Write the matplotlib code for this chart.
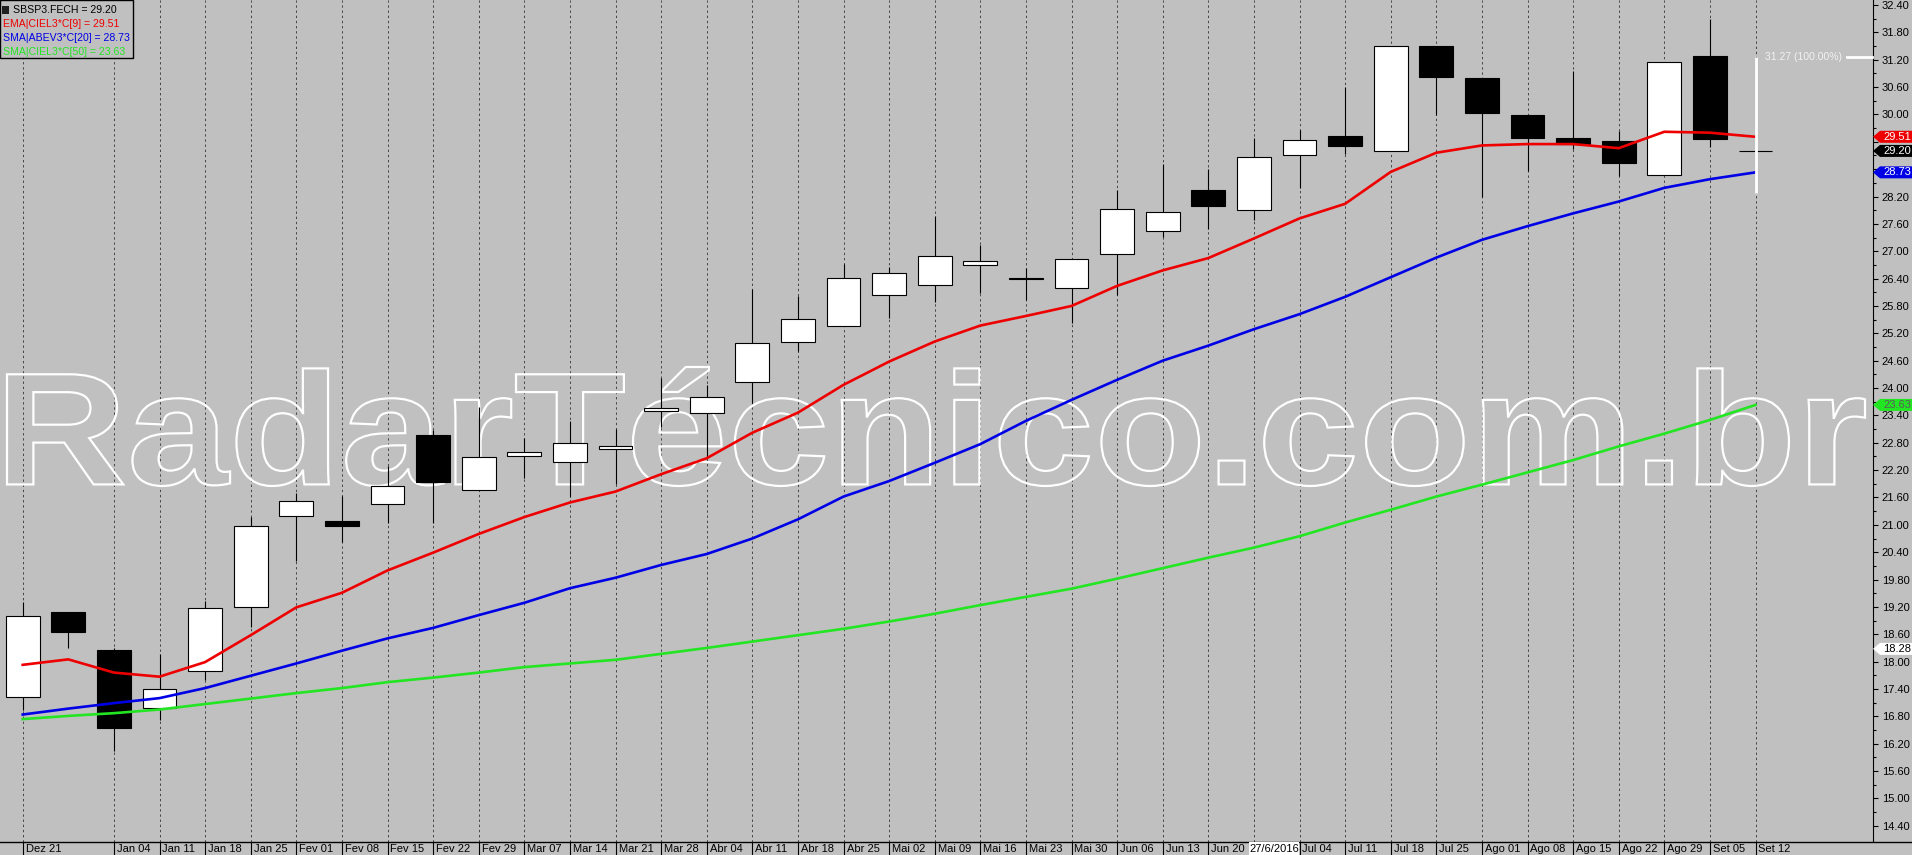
import numpy as np
import matplotlib
matplotlib.use('Agg')
import matplotlib.pyplot as plt
import matplotlib.patches as mpatches
import matplotlib.transforms as mtrans
from matplotlib.textpath import TextPath
from matplotlib.font_manager import FontProperties

plt.rcParams['font.family'] = ['Liberation Sans', 'DejaVu Sans']

# semanas (candle semanal SBSP3)
semanas = ['Dez 21', '', 'Jan 04', 'Jan 11', 'Jan 18', 'Jan 25', 'Fev 01', 'Fev 08',
           'Fev 15', 'Fev 22', 'Fev 29', 'Mar 07', 'Mar 14', 'Mar 21', 'Mar 28',
           'Abr 04', 'Abr 11', 'Abr 18', 'Abr 25', 'Mai 02', 'Mai 09', 'Mai 16',
           'Mai 23', 'Mai 30', 'Jun 06', 'Jun 13', 'Jun 20', 'Jun 27', 'Jul 04',
           'Jul 11', 'Jul 18', 'Jul 25', 'Ago 01', 'Ago 08', 'Ago 15', 'Ago 22',
           'Ago 29', 'Set 05', 'Set 12']

abertura = [17.22, 19.08, 18.25, 16.98, 17.79, 19.19, 21.19, 21.08, 21.45, 22.97,
            21.76, 22.52, 22.37, 22.67, 23.49, 23.45, 24.13, 25.00, 25.36, 26.03,
            26.27, 26.69, 26.42, 26.19, 26.93, 27.44, 28.34, 27.90, 29.10, 29.52,
            29.19, 31.50, 30.81, 29.99, 29.48, 29.42, 28.67, 31.28, 29.20]
maxima = [19.31, 19.08, 18.30, 18.17, 19.34, 21.17, 21.69, 21.63, 22.29, 23.08,
          23.58, 22.90, 23.28, 23.10, 24.21, 24.07, 26.17, 26.02, 26.71, 26.65,
          27.77, 27.13, 26.63, 26.82, 28.34, 28.91, 28.80, 29.48, 29.66, 30.61,
          31.49, 31.50, 30.81, 29.99, 30.95, 29.64, 31.14, 32.09, 29.20]
minima = [16.94, 18.29, 16.03, 16.71, 17.60, 18.75, 20.21, 20.63, 21.05, 21.03,
          21.76, 22.03, 21.62, 21.90, 23.15, 22.46, 23.67, 24.82, 25.36, 25.53,
          25.89, 26.09, 25.92, 25.43, 26.04, 27.31, 27.48, 27.69, 28.38, 29.13,
          29.19, 29.99, 28.20, 28.77, 29.25, 28.64, 28.67, 29.29, 29.20]
fechamento = [18.99, 18.64, 16.55, 17.41, 19.17, 20.97, 21.52, 20.98, 21.86, 21.93,
              22.48, 22.59, 22.79, 22.72, 23.57, 23.80, 24.98, 25.51, 26.41, 26.52,
              26.89, 26.78, 26.39, 26.82, 27.92, 27.85, 28.00, 29.06, 29.43, 29.31,
              31.49, 30.83, 30.04, 29.49, 29.35, 28.94, 31.14, 29.47, 29.20]

ema9_ciel3 = [17.93, 18.05, 17.76, 17.67, 17.99, 18.58, 19.19, 19.51, 20.00, 20.39,
              20.80, 21.17, 21.49, 21.73, 22.11, 22.46, 23.02, 23.46, 24.07, 24.58,
              25.02, 25.37, 25.58, 25.80, 26.24, 26.58, 26.85, 27.28, 27.72, 28.04,
              28.74, 29.16, 29.32, 29.35, 29.35, 29.26, 29.62, 29.60, 29.51]
sma20_abev3 = [16.84, 16.97, 17.09, 17.20, 17.42, 17.69, 17.96, 18.24, 18.51, 18.74,
               19.02, 19.29, 19.61, 19.84, 20.12, 20.36, 20.70, 21.12, 21.62, 21.96,
               22.36, 22.77, 23.28, 23.74, 24.18, 24.60, 24.93, 25.29, 25.62, 26.00,
               26.43, 26.86, 27.25, 27.55, 27.83, 28.09, 28.39, 28.58, 28.73]
sma50_ciel3 = [16.74, 16.81, 16.87, 16.95, 17.07, 17.19, 17.31, 17.42, 17.55, 17.65,
               17.76, 17.88, 17.96, 18.04, 18.17, 18.30, 18.44, 18.58, 18.72, 18.88,
               19.05, 19.24, 19.42, 19.60, 19.82, 20.05, 20.28, 20.50, 20.75, 21.05,
               21.33, 21.62, 21.88, 22.15, 22.42, 22.72, 23.00, 23.30, 23.63]

medida_min, medida_max = 28.28, 31.27
cursor_preco = 18.28
cursor_data = '27/6/2016'
cursor_semana = 27

BG = '#c0c0c0'
W, H = 1912, 855
AXW, AXH = 1873, 842
PX = 45.6      # pixels por candle
PY = 45.6      # pixels por real

fig = plt.figure(figsize=(W / 100, H / 100), dpi=100)
fig.patch.set_facecolor(BG)
ax = fig.add_axes([0, (H - AXH) / H, AXW / W, AXH / H])
ax.set_facecolor(BG)
x0 = -22.7 / PX
ax.set_xlim(x0, x0 + AXW / PX)
ymin = 32.4 - (AXH - 5) / PY
ax.set_ylim(ymin, ymin + AXH / PY)

for s in ['left', 'top', 'bottom']:
    ax.spines[s].set_visible(False)
ax.spines['right'].set_color('black')
ax.spines['right'].set_linewidth(0.8)

# valores com etiqueta no eixo escondem o rotulo do tick
etiquetados = [ema9_ciel3[-1], fechamento[-1], sma20_abev3[-1]]


def fmt(v, pos):
    if any(abs(v - e) < 0.15 for e in etiquetados):
        return ''
    return '%.2f' % v


ax.set_xticks([])
ax.yaxis.tick_right()
ax.set_yticks(np.arange(14.4, 32.41, 0.6))
ax.set_yticks(np.arange(14.7, 32.5, 0.6), minor=True)
ax.yaxis.set_major_formatter(matplotlib.ticker.FuncFormatter(fmt))
ax.tick_params(axis='y', which='major', length=3.4, width=0.8, pad=3.0, labelsize=8)
ax.tick_params(axis='y', which='minor', length=2.2, width=0.8)

idx = np.arange(len(semanas))

# grade vertical tracejada
for i, lab in enumerate(semanas):
    if lab:
        ax.axvline(i, color='#454545', lw=0.7, ls=(0, (2.4, 2.9)), zorder=0.5)

# marca d'agua
tp = TextPath((0, 0), 'RadarTécnico.com.br', size=100,
              prop=FontProperties(family='Liberation Sans', weight='bold'))
bb = tp.get_extents()
bx0, bx1, btop, bbot = 7, 1865, 367, 486
tr = (mtrans.Affine2D().translate(-bb.x0, -bb.y0)
      .scale((bx1 - bx0) / AXW / bb.width, (bbot - btop) / AXH / bb.height)
      .translate(bx0 / AXW, (AXH - bbot) / AXH) + ax.transAxes)
ax.add_patch(mpatches.PathPatch(tp, transform=tr, fc='none', ec='white', lw=1.6, zorder=1))

# candles
o = np.array(abertura); c = np.array(fechamento)
ax.vlines(idx, minima, maxima, colors='black', lw=0.8, zorder=2)
cores = ['white' if cc > oo else 'black' for oo, cc in zip(o, c)]
ax.bar(idx, np.abs(c - o), bottom=np.minimum(o, c), width=0.745, color=cores,
       edgecolor='black', linewidth=0.8, zorder=3)

# medias
ax.plot(idx, sma50_ciel3, color='#22e622', lw=1.9, zorder=4)
ax.plot(idx, sma20_abev3, color='#0000e6', lw=1.9, zorder=4)
ax.plot(idx, ema9_ciel3, color='#ee0000', lw=1.9, zorder=4)

# linha de medida
ax.vlines(idx[-1], medida_min, medida_max, colors='white', lw=2.0, zorder=6)
ax.annotate('%.2f (100.00%%)' % medida_max, xy=(idx[-1], medida_max), xytext=(7, 0),
            textcoords='offset points', va='center', ha='left', fontsize=7.5,
            color='#f2f2f2', zorder=6)
ax.plot([x0 + 1847 / PX, x0 + 1872 / PX], [medida_max, medida_max], color='white',
        lw=2.0, zorder=6, clip_on=False)

# etiquetas no eixo de precos
blend = mtrans.blended_transform_factory(ax.transAxes, ax.transData)


def etiqueta(valor, fc, tc):
    h = 6 / PY
    xa = 1 + 7 / AXW
    xb = W / AXW
    poly = mpatches.Polygon([(1.0, valor), (xa, valor + h), (xb, valor + h),
                             (xb, valor - h), (xa, valor - h)], closed=True,
                            fc=fc, ec='none', transform=blend, clip_on=False, zorder=20)
    ax.add_patch(poly)
    ax.text(1 + 10 / AXW, valor, '%.2f' % valor, transform=blend, color=tc, fontsize=8,
            va='center', ha='left', clip_on=False, zorder=21)


etiqueta(sma50_ciel3[-1], '#22e622', '#5a5a5a')
etiqueta(sma20_abev3[-1], '#0000e6', 'white')
etiqueta(ema9_ciel3[-1], '#ee0000', 'white')
etiqueta(fechamento[-1], 'black', 'white')
etiqueta(cursor_preco, 'white', 'black')

# legenda
ax.add_patch(mpatches.Rectangle((0, 1 - 58 / AXH), 133 / AXW, 58 / AXH, fc=BG, ec='black',
                                lw=1.0, transform=ax.transAxes, zorder=20, clip_on=False))
ax.add_patch(mpatches.Rectangle((2 / AXW, 1 - 14 / AXH), 7 / AXW, 8 / AXH, fc='#202020',
                                ec='none', transform=ax.transAxes, zorder=21))
leg = [('SBSP3.FECH = %.2f' % fechamento[-1], 'black', 13),
       ('EMA|CIEL3*C[9] = %.2f' % ema9_ciel3[-1], '#ee0000', 3),
       ('SMA|ABEV3*C[20] = %.2f' % sma20_abev3[-1], '#0000e6', 3),
       ('SMA|CIEL3*C[50] = %.2f' % sma50_ciel3[-1], '#22e622', 3)]
for k, (txt, cor, xp) in enumerate(leg):
    ax.text(xp / AXW, 1 - (10 + 14 * k) / AXH, txt, transform=ax.transAxes, color=cor,
            fontsize=7.6, va='center', ha='left', zorder=22)

# faixa de datas
ax2 = fig.add_axes([0, 0, 1, (H - AXH) / H])
ax2.set_facecolor(BG)
ax2.set_xlim(x0, x0 + W / PX)
ax2.set_ylim(0, 1)
ax2.set_xticks([]); ax2.set_yticks([])
for s in ['left', 'right', 'bottom']:
    ax2.spines[s].set_visible(False)
ax2.spines['top'].set_color('black')
ax2.spines['top'].set_linewidth(1.0)
for i, lab in enumerate(semanas):
    if lab and i != cursor_semana:
        ax2.vlines(i, 0, 1, colors='black', lw=0.8)
        ax2.annotate(lab, xy=(i, 0.45), xytext=(3, 0), textcoords='offset pixels',
                     va='center', ha='left', fontsize=8, color='black')
ax2.add_patch(mpatches.Rectangle((x0 + 1249 / PX, 0), 50 / PX, 1, fc='white', ec='none',
                                 zorder=5))
ax2.text(x0 + 1274 / PX, 0.45, cursor_data, ha='center', va='center', fontsize=8,
         color='black', zorder=6)

fig.savefig('out.png', dpi=100, facecolor=BG)
